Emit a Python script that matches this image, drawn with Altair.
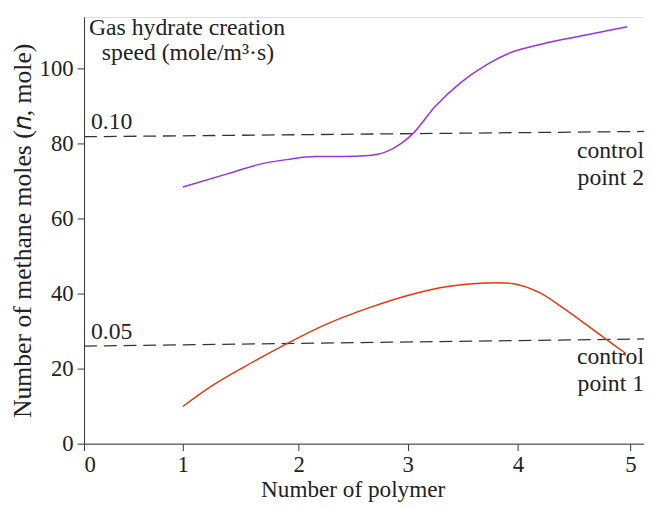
import altair as alt
import pandas as pd

# Series
purple_x = [1.0, 1.384, 1.697, 1.895, 2.16, 2.402, 2.643, 2.794, 2.945, 3.05, 3.245, 3.484, 3.722, 3.932, 4.225, 4.547, 4.971]
purple_y = [68.4, 71.9, 74.7, 75.7, 76.5, 76.5, 76.8, 77.7, 80.1, 82.7, 89.7, 96.3, 101.1, 104.2, 106.6, 108.6, 111.1]

orange_x = [1.0, 1.241, 1.526, 1.895, 2.251, 2.643, 3.05, 3.364, 3.693, 3.962, 4.196, 4.401, 4.605, 4.781, 4.956]
orange_y = [9.9, 15.2, 20.4, 26.6, 31.8, 36.2, 39.9, 41.9, 42.8, 42.6, 40.2, 36.2, 31.8, 27.9, 24.1]

dash_x = [0.0, 5.12]
dash_hi_y = [81.8, 83.2]
dash_lo_y = [26.0, 27.9]

x_ticks = [0, 1, 2, 3, 4, 5]
y_ticks = [0, 20, 40, 60, 80, 100]

label_text = ["0.10", "0.05", "Gas hydrate creation", "speed (mole/m\u00b3\u00b7s)"]
label_x = [0.07, 0.07, 0.05, 0.18]
label_y = [85.8, 29.7, 110.8, 104.2]

right_text = ["control", "point 2", "control", "point 1"]
right_x = [5.12, 5.12, 5.12, 5.12]
right_y = [77.9, 70.9, 23.2, 16.0]

FONT = "Liberation Serif"

# the reference's x ticks are not evenly spaced: piecewise-linear scale
xs = alt.Scale(domain=[0, 1, 2, 3, 4, 5, 5.12], range=[0, 100, 217.3, 327.7, 439.3, 553.3, 567],
               nice=False, zero=False)
ys = alt.Scale(domain=[0, 113.7], nice=False, zero=False)

df_p = pd.DataFrame({"x": purple_x, "y": purple_y})
df_o = pd.DataFrame({"x": orange_x, "y": orange_y})
df_dh = pd.DataFrame({"x": dash_x, "y": dash_hi_y})
df_dl = pd.DataFrame({"x": dash_x, "y": dash_lo_y})
df_l = pd.DataFrame({"t": label_text, "x": label_x, "y": label_y})
df_r = pd.DataFrame({"t": right_text, "x": right_x, "y": right_y})

xaxis = alt.Axis(values=x_ticks, format="d", title="Number of polymer", grid=False,
                 labelFont=FONT, labelFontSize=23, titleFont=FONT, titleFontSize=23.5,
                 titleFontWeight="normal", labelColor="#222", titleColor="#222",
                 domainColor="#333", tickColor="#333", tickSize=7, labelPadding=3,
                 titlePadding=2, titleX=272)
yaxis = alt.Axis(values=y_ticks, format="d",
                 title="Number of methane moles (\U0001D45B, mole)", grid=False,
                 labelFont=FONT, labelFontSize=23, titleFont=FONT, titleFontSize=26,
                 titleFontWeight="normal", labelColor="#222", titleColor="#222",
                 domainColor="#333", tickColor="#333", tickSize=7, labelPadding=4,
                 titlePadding=4)

base_x = alt.X("x:Q", scale=xs, axis=xaxis)
base_y = alt.Y("y:Q", scale=ys, axis=yaxis)

purple = alt.Chart(df_p).mark_line(color="#9a35d8", strokeWidth=1.5, interpolate="monotone").encode(x=base_x, y=base_y)
orange = alt.Chart(df_o).mark_line(color="#e03a0c", strokeWidth=1.5, interpolate="catmull-rom").encode(x="x:Q", y="y:Q")
dh = alt.Chart(df_dh).mark_line(color="#333", strokeWidth=1.3, strokeDash=[13, 7]).encode(x="x:Q", y="y:Q")
dl = alt.Chart(df_dl).mark_line(color="#333", strokeWidth=1.3, strokeDash=[13, 7]).encode(x="x:Q", y="y:Q")
labels = alt.Chart(df_l).mark_text(font=FONT, fontSize=24, align="left", baseline="middle", color="#222").encode(
    x="x:Q", y="y:Q", text="t:N")
rlabels = alt.Chart(df_r).mark_text(font=FONT, fontSize=24, align="right", baseline="middle", color="#222").encode(
    x="x:Q", y="y:Q", text="t:N")

chart = alt.layer(dh, dl, purple, orange, labels, rlabels).properties(
    width=567, height=432,
    autosize=alt.AutoSizeParams(type="none"),
    padding={"left": 77, "top": 6, "right": 0, "bottom": 62},
).configure_view(stroke=None).configure(background="white")

chart.save("out.html", embed_options={"renderer": "svg", "actions": False})
